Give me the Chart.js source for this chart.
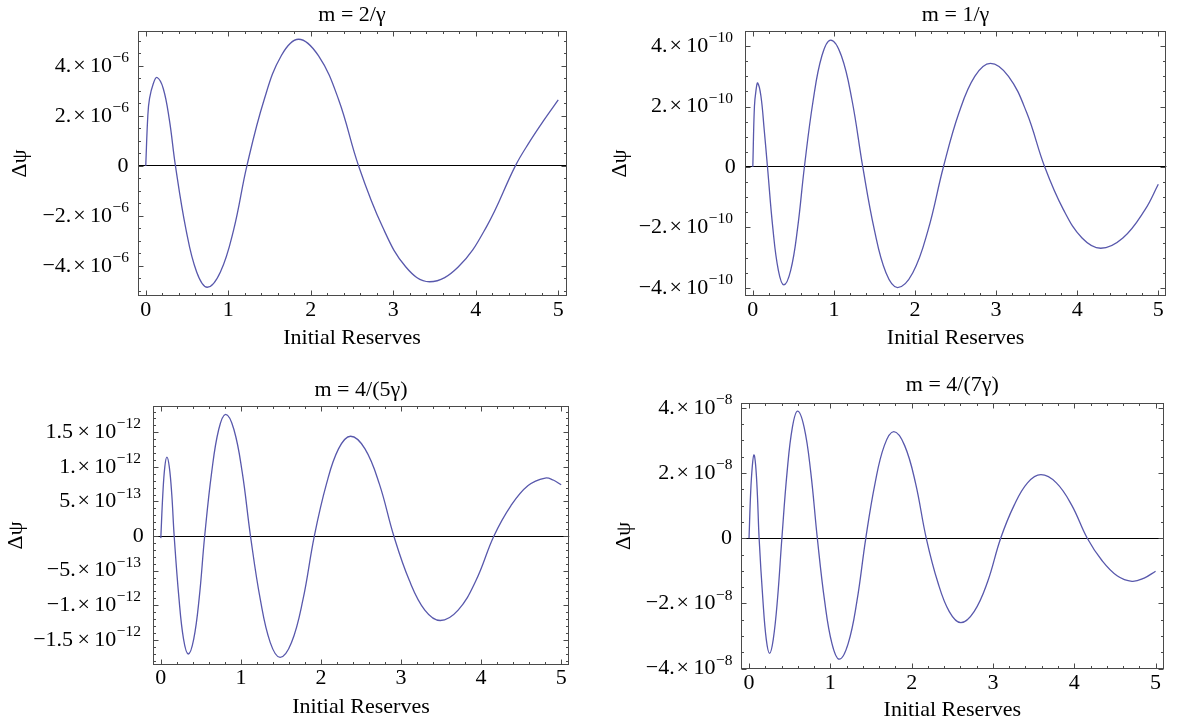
<!DOCTYPE html>
<html>
<head>
<meta charset="utf-8">
<script src="https://cdn.jsdelivr.net/npm/chart.js@4.4.1/dist/chart.umd.min.js"></script>
<style>
  html, body { margin: 0; padding: 0; background: #ffffff; }
  body { width: 1185px; height: 725px; position: relative; overflow: hidden; }
  .panel { position: absolute; }
  .panel canvas { display: block; }
</style>
</head>
<body>
<div class="panel" id="d1" style="left:0px;top:0px;width:585px;height:362px"><canvas id="c1"></canvas></div>
<div class="panel" id="d2" style="left:590px;top:0px;width:595px;height:362px"><canvas id="c2"></canvas></div>
<div class="panel" id="d3" style="left:0px;top:362px;width:585px;height:363px"><canvas id="c3"></canvas></div>
<div class="panel" id="d4" style="left:590px;top:362px;width:595px;height:363px"><canvas id="c4"></canvas></div>
<script>
// ---------------- DATA ----------------
const X_TICKS = [0, 1, 2, 3, 4, 5];
const X_TICK_LABELS = ['0', '1', '2', '3', '4', '5'];
const X_TITLE = 'Initial Reserves';
const Y_TITLE = 'Δψ';

// Panel 1: m = 2/γ   (values ×1e-6)
const P1_TITLE = 'm = 2/γ';
const P1_X = [0, 0.025, 0.046, 0.092, 0.138, 0.212, 0.286, 0.36, 0.488, 0.617, 0.745, 0.905, 1.066, 1.226, 1.435, 1.644, 1.853, 2.095, 2.338, 2.58, 2.867, 3.153, 3.44, 3.787, 4.133, 4.48, 4.65, 4.82, 5.0];
const P1_Y = [0, 2.0, 2.7, 3.3, 3.54, 3.1, 1.85, 0, -2.55, -4.25, -4.86, -4.25, -2.55, 0, 2.65, 4.42, 5.07, 4.4, 2.65, 0, -2.42, -4.05, -4.64, -4.05, -2.42, 0, 0.95, 1.8, 2.64].map(v => v * 1e-6);
const P1_YTICKS = [-4e-6, -2e-6, 0, 2e-6, 4e-6];
const P1_YBASE = ['−4.\u200a×\u200910', '−2.\u200a×\u200910', '0', '2.\u200a×\u200910', '4.\u200a×\u200910'];
const P1_YEXP = ['−6', '−6', '', '−6', '−6'];

// Panel 2: m = 1/γ   (values ×1e-10)
const P2_TITLE = 'm = 1/γ';
const P2_X = [0, 0.02, 0.04, 0.06, 0.1, 0.14, 0.181, 0.248, 0.315, 0.382, 0.467, 0.551, 0.636, 0.744, 0.852, 0.96, 1.092, 1.224, 1.356, 1.499, 1.642, 1.785, 1.973, 2.162, 2.35, 2.543, 2.737, 2.93, 3.153, 3.377, 3.6, 3.83, 4.06, 4.29, 4.563, 4.837, 5.0];
const P2_Y = [0, 2.0, 2.55, 2.78, 2.35, 1.25, 0, -2.05, -3.42, -3.9, -3.42, -2.05, 0, 2.2, 3.68, 4.2, 3.68, 2.2, 0, -2.08, -3.5, -3.99, -3.5, -2.08, 0, 1.8, 3.0, 3.43, 3.0, 1.8, 0, -1.41, -2.35, -2.69, -2.35, -1.41, -0.57].map(v => v * 1e-10);
const P2_YTICKS = [-4e-10, -2e-10, 0, 2e-10, 4e-10];
const P2_YBASE = ['−4.\u200a×\u200910', '−2.\u200a×\u200910', '0', '2.\u200a×\u200910', '4.\u200a×\u200910'];
const P2_YEXP = ['−10', '−10', '', '−10', '−10'];

// Panel 3: m = 4/(5γ)   (values ×1e-12)
const P3_TITLE = 'm = 4/(5γ)';
const P3_X = [0, 0.025, 0.05, 0.076, 0.106, 0.137, 0.167, 0.226, 0.284, 0.343, 0.411, 0.48, 0.548, 0.635, 0.723, 0.81, 0.913, 1.017, 1.12, 1.243, 1.367, 1.49, 1.632, 1.775, 1.917, 2.068, 2.219, 2.37, 2.55, 2.73, 2.91, 3.103, 3.297, 3.49, 3.713, 3.937, 4.16, 4.373, 4.587, 4.8, 4.9, 5.0];
const P3_Y = [-0.03, 0.6, 1.0, 1.14, 1.0, 0.6, 0, -0.89, -1.49, -1.705, -1.49, -0.89, 0, 0.92, 1.54, 1.76, 1.54, 0.92, 0, -0.92, -1.54, -1.754, -1.54, -0.92, 0, 0.75, 1.26, 1.443, 1.26, 0.75, 0, -0.64, -1.07, -1.221, -1.07, -0.64, 0, 0.44, 0.73, 0.838, 0.81, 0.741].map(v => v * 1e-12);
const P3_YTICKS = [-1.5e-12, -1e-12, -5e-13, 0, 5e-13, 1e-12, 1.5e-12];
const P3_YBASE = ['−1.5\u2009×\u200910', '−1.\u200a×\u200910', '−5.\u200a×\u200910', '0', '5.\u200a×\u200910', '1.\u200a×\u200910', '1.5\u2009×\u200910'];
const P3_YEXP = ['−12', '−12', '−13', '', '−13', '−12', '−12'];

// Panel 4: m = 4/(7γ)   (values ×1e-8)
const P4_TITLE = 'm = 4/(7γ)';
const P4_X = [0, 0.02, 0.04, 0.06, 0.081, 0.103, 0.124, 0.17, 0.212, 0.253, 0.298, 0.35, 0.404, 0.468, 0.533, 0.597, 0.678, 0.759, 0.84, 0.93, 1.02, 1.11, 1.219, 1.327, 1.436, 1.551, 1.665, 1.78, 1.913, 2.047, 2.18, 2.322, 2.463, 2.605, 2.768, 2.932, 3.095, 3.26, 3.425, 3.59, 3.78, 3.97, 4.16, 4.343, 4.527, 4.71, 4.86, 5.0];
const P4_Y = [0, 1.4, 2.2, 2.56, 2.25, 1.33, 0, -1.87, -3.1, -3.53, -3.1, -1.87, 0, 2.03, 3.4, 3.9, 3.4, 2.03, 0, -1.93, -3.23, -3.71, -3.23, -1.93, 0, 1.7, 2.85, 3.27, 2.85, 1.7, 0, -1.35, -2.25, -2.59, -2.25, -1.35, 0, 1.01, 1.7, 1.95, 1.7, 1.01, 0, -0.69, -1.15, -1.32, -1.22, -1.01].map(v => v * 1e-8);
const P4_YTICKS = [-4e-8, -2e-8, 0, 2e-8, 4e-8];
const P4_YBASE = ['−4.\u200a×\u200910', '−2.\u200a×\u200910', '0', '2.\u200a×\u200910', '4.\u200a×\u200910'];
const P4_YEXP = ['−8', '−8', '', '−8', '−8'];

// ---------------- STYLE / LAYOUT ----------------
const FONT = "'Liberation Serif', 'Times New Roman', serif";
const TICK_SIZE = 22;
const EXP_SIZE = 15.5;
const LABEL_SIZE = 22;
const Y_PAD = 9;
const LINE_COLOR = 'rgb(88,88,172)';
const FRAME_COLOR = '#4a4a4a';

const measureCtx = document.createElement('canvas').getContext('2d');
function textW(str, size) {
  measureCtx.font = size + 'px ' + FONT;
  return measureCtx.measureText(str).width;
}
// trailing spaces reserve room after "10" for the raised exponent
function reserveFor(exp) {
  if (!exp) return '';
  const n = Math.max(1, Math.round((textW(exp, EXP_SIZE) + 1) / textW(' ', TICK_SIZE)));
  return ' '.repeat(n);
}

const framePlugin = {
  id: 'frame',
  afterDatasetsDraw(chart, args, o) {
    const { ctx, chartArea: a } = chart;
    const xs = chart.scales.x, ys = chart.scales.y;
    ctx.save();
    ctx.strokeStyle = FRAME_COLOR;
    ctx.lineWidth = 1;
    const L = Math.round(a.left) + 0.5, R = Math.round(a.right) - 0.5;
    const T = Math.round(a.top) + 0.5, B = Math.round(a.bottom) - 0.5;
    ctx.strokeRect(L, T, R - L, B - T);
    ctx.beginPath();
    for (let k = Math.ceil(xs.min / o.xMinor - 1e-9); k * o.xMinor <= xs.max + 1e-9; k++) {
      const v = k * o.xMinor;
      const q = v / o.xMajor;
      const major = Math.abs(q - Math.round(q)) < 1e-6;
      const len = major ? 5 : 2.5;
      const px = Math.round(xs.getPixelForValue(v)) + 0.5;
      ctx.moveTo(px, B); ctx.lineTo(px, B - len);
      ctx.moveTo(px, T); ctx.lineTo(px, T + len);
    }
    for (let k = Math.ceil(ys.min / o.yMinor - 1e-9); k * o.yMinor <= ys.max * (1 + 1e-9); k++) {
      const v = k * o.yMinor;
      const q = v / o.yMajor;
      const major = Math.abs(q - Math.round(q)) < 1e-6;
      const len = major ? 5 : 2.5;
      const py = Math.round(ys.getPixelForValue(v)) + 0.5;
      ctx.moveTo(L, py); ctx.lineTo(L + len, py);
      ctx.moveTo(R, py); ctx.lineTo(R - len, py);
    }
    ctx.stroke();
    ctx.restore();
  },
  afterDraw(chart, args, o) {
    // raised exponents of the y tick labels, placed in the room reserved by the tick text
    const { ctx } = chart;
    const ys = chart.scales.y;
    const right = ys.right - Y_PAD;
    ctx.save();
    ctx.fillStyle = '#000';
    ctx.textAlign = 'left';
    ctx.textBaseline = 'middle';
    ys.ticks.forEach((t, i) => {
      const exp = o.exps[i];
      if (!exp) return;
      const reserveW = textW(reserveFor(exp), TICK_SIZE);
      const py = ys.getPixelForValue(t.value);
      ctx.font = EXP_SIZE + 'px ' + FONT;
      ctx.fillText(exp, right - reserveW + 0.5, py - 8);
    });
    ctx.restore();
  }
};

function makeChart(id, xs, yv, yticks, ybase, yexp, title, L) {
  const data = xs.map((x, i) => ({ x: x, y: yv[i] }));
  return new Chart(document.getElementById(id), {
    type: 'line',
    data: {
      datasets: [{
        data: data,
        borderColor: LINE_COLOR,
        borderWidth: 1.3,
        pointRadius: 0,
        fill: false,
        tension: 0.4
      }]
    },
    options: {
      responsive: true,
      maintainAspectRatio: false,
      animation: false,
      devicePixelRatio: 1,
      layout: { padding: { left: 0, right: L.padRight, top: 0, bottom: 0 } },
      plugins: {
        legend: { display: false },
        tooltip: { enabled: false },
        title: {
          display: true, text: title, fullSize: false,
          color: '#000', font: { family: FONT, size: LABEL_SIZE, weight: 'normal', lineHeight: 1.2 },
          padding: { top: L.titleTop, bottom: L.titleBottom }
        },
        frame: { xMinor: 0.2, xMajor: 1, yMinor: L.yMinor, yMajor: L.yMajor, exps: yexp }
      },
      scales: {
        x: {
          type: 'linear', min: -0.1, max: 5.1,
          afterBuildTicks: (s) => { s.ticks = X_TICKS.map(v => ({ value: v })); },
          afterFit: (s) => { s.height = L.xHeight; },
          grid: { display: false, drawTicks: false },
          border: { display: false },
          ticks: {
            autoSkip: false, maxRotation: 0, padding: L.xTickPad, color: '#000',
            font: { family: FONT, size: TICK_SIZE, lineHeight: 1.0 },
            callback: (v, i) => X_TICK_LABELS[i]
          },
          title: {
            display: true, text: X_TITLE, color: '#000',
            font: { family: FONT, size: LABEL_SIZE, lineHeight: 1.2 },
            padding: { top: 0, bottom: L.xTitleBottom }
          }
        },
        y: {
          type: 'linear', min: L.yMin, max: L.yMax,
          afterBuildTicks: (s) => { s.ticks = yticks.map(v => ({ value: v })); },
          afterFit: (s) => { s.width = L.yWidth; },
          grid: {
            display: true, drawOnChartArea: true, drawTicks: false,
            color: (c) => (c.tick && c.tick.value === 0) ? '#000000' : 'rgba(0,0,0,0)',
            lineWidth: 1
          },
          border: { display: false },
          ticks: {
            autoSkip: false, padding: Y_PAD, color: '#000',
            font: { family: FONT, size: TICK_SIZE, lineHeight: 1.0 },
            callback: (v, i) => ybase[i] + reserveFor(yexp[i])
          },
          title: {
            display: true, text: Y_TITLE, color: '#000',
            font: { family: FONT, size: LABEL_SIZE, lineHeight: 1.2 },
            padding: { top: L.yTitleTop, bottom: 0 }
          }
        }
      }
    },
    plugins: [framePlugin]
  });
}

makeChart('c1', P1_X, P1_Y, P1_YTICKS, P1_YBASE, P1_YEXP, P1_TITLE, {
  padRight: 18.5, yWidth: 137.5, xHeight: 66, titleTop: 1.8, titleBottom: 2.8,
  xTickPad: 3, xTitleBottom: 10.4, yTitleTop: 7.4,
  yMin: -5.21e-6, yMax: 5.4e-6, yMinor: 0.5e-6, yMajor: 2e-6
});
makeChart('c2', P2_X, P2_Y, P2_YTICKS, P2_YBASE, P2_YEXP, P2_TITLE, {
  padRight: 18.6, yWidth: 154.7, xHeight: 66, titleTop: 1.8, titleBottom: 2.8,
  xTickPad: 3, xTitleBottom: 10.4, yTitleTop: 16.9,
  yMin: -4.27e-10, yMax: 4.5e-10, yMinor: 0.5e-10, yMajor: 2e-10
});
makeChart('c3', P3_X, P3_Y, P3_YTICKS, P3_YBASE, P3_YEXP, P3_TITLE, {
  padRight: 15.8, yWidth: 152.8, xHeight: 60, titleTop: 14.8, titleBottom: 2.8,
  xTickPad: 2, xTitleBottom: 4.4, yTitleTop: 3.4,
  yMin: -1.864e-12, yMax: 1.88e-12, yMinor: 0.1e-12, yMajor: 0.5e-12
});
makeChart('c4', P4_X, P4_Y, P4_YTICKS, P4_YBASE, P4_YEXP, P4_TITLE, {
  padRight: 21.3, yWidth: 150.9, xHeight: 56, titleTop: 9.8, titleBottom: 4.8,
  xTickPad: 3, xTitleBottom: 1.4, yTitleTop: 20.9,
  yMin: -4.01e-8, yMax: 4.15e-8, yMinor: 0.5e-8, yMajor: 2e-8
});
</script>
</body>
</html>
